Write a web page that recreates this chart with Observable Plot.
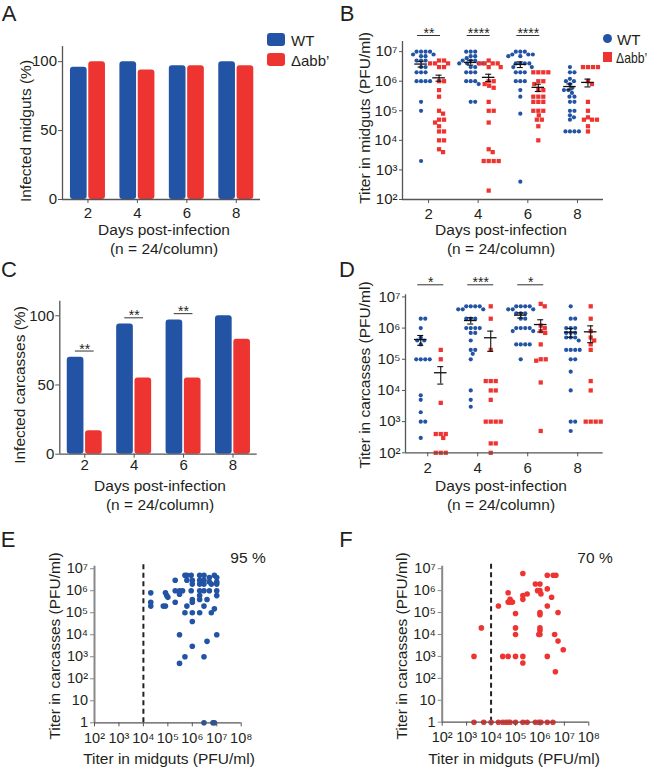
<!DOCTYPE html>
<html><head><meta charset="utf-8">
<script src="https://cdn.jsdelivr.net/npm/d3@7"></script>
<script src="https://cdn.jsdelivr.net/npm/@observablehq/plot@0.6"></script>
<style>
body{margin:0;background:#fff;}
#fig{position:relative;width:650px;height:772px;overflow:hidden;font-family:"Liberation Sans Narrow","Arial Narrow","Liberation Sans",Arial,sans-serif;color:#231f20;}
.abs{position:absolute;white-space:nowrap;line-height:1;}
</style></head>
<body><div id="fig"></div>
<script>
// ---------- data ----------
const days = [2, 4, 6, 8];
const groupNames = ["WT", "Δabb’"];
// A: infected midguts (%)
const midgutPctWT  = [96, 100, 97, 100];
const midgutPctAbb = [100, 94, 97, 97];
// C: infected carcasses (%)
const carcassPctWT  = [70, 94, 97, 100];
const carcassPctAbb = [17, 55, 55, 83];
const sigDaysC = [2, 4, 6];
const sigLabelsC = ["**", "**", "**"];
// B: titer in midguts (PFU/ml)
const bWT2  = [1e7,1e7,1e7,1e7,8e6,8e6,7e6,7e6,5e6,5e6,5e6,3e6,3e6,2e6,2e6,2e6,1e6,1e6,1e6,1e6,2e5,1e5,2e3];
const bAbb2 = [5e6,5e6,4e6,4e6,4e6,3e6,3e6,1e6,1e6,5e5,3e5,1e5,8e4,5e4,5e4,4e4,3e4,2e4,2e4,1e4,1e4,5e3,4e3];
const bWT4  = [1e7,1e7,1e7,7e6,7e6,6e6,5e6,5e6,5e6,4e6,4e6,4e6,4e6,3e6,3e6,2e6,2e6,2e6,1e6,1e6,1e6,8e5,2e5,2e5];
const bAbb4 = [5e6,4e6,4e6,4e6,4e6,3e6,3e6,1e6,1e6,8e5,7e5,6e5,2e5,1e5,1e5,4e4,5e3,4e3,2e3,2e3,2e3,2e3,2e2];
const bWT6  = [1e7,1e7,1e7,8e6,8e6,8e6,7e6,7e6,4e6,4e6,4e6,4e6,3e6,3e6,2e6,2e6,2e6,1e6,1e6,1e6,5e5,3e5,8e4,4e2];
const bAbb6 = [2e6,2e6,2e6,2e6,1e6,1e6,8e5,5e5,5e5,3e5,3e5,3e5,2e5,2e5,2e5,1e5,1e5,1e5,7e4,5e4,5e4,3e4,1e4];
const bWT8  = [3e6,2e6,2e6,1.2e6,1e6,1e6,8e5,6e5,5e5,5e5,4e5,3e5,3e5,2e5,2e5,1e5,1e5,7e4,6e4,5e4,2e4,2e4,2e4,2e4];
const bAbb8 = [3e6,3e6,3e6,3e6,1e6,8e5,2e5,1e5,6e4,5e4,5e4,5e4,3e4,2e4];
const bMeanWT  = [3.8e6, 4.3e6, 3.7e6, 6.6e5];
const bSemWT   = [8e5, 8e5, 8e5, 1.5e5];
const bMeanAbb = [1.3e6, 1.35e6, 6.2e5, 9.1e5];
const bSemAbb  = [3e5, 3.7e5, 1.7e5, 2.7e5];
const sigDaysB = [2, 4, 6];
const sigLabelsB = ["**", "****", "****"];
// D: titer in carcasses (PFU/ml)
const dWT2  = [2e6,2e6,1e6,5e5,4e5,4e5,3e5,1e5,1e5,1e5,1e5,7e3,5e3,2e3,1e3,1e3,3e2];
const dAbb2 = [2e5,1e5,4e3,4e2,4e2,4e2,3e2,1e2,1e2,1e2];
const dWT4  = [5e6,5e6,5e6,5e6,4e6,4e6,4e6,2e6,2e6,2e6,1e6,1e6,1e6,1e6,7e5,7e5,4e5,2e5,2e5,1.5e5,1e5,1e4,5e3,3e3];
const dAbb4 = [5e6,2e6,2e5,2e4,2e4,2e4,1e4,1e4,5e3,1e3,1e3,1e3,1e3,2e2,2e2,1e2];
const dWT6  = [5e6,5e6,5e6,5e6,4e6,4e6,4e6,3e6,3e6,3e6,2e6,2e6,1e6,1e6,1e6,1e6,8e5,8e5,3e5,3e5,3e5,3e5,1e5];
const dAbb6 = [6e6,5e6,1.2e6,1e6,8e5,7e5,3e5,1e5,1e5,9e4,1.8e4,5e2];
const dWT8  = [5e6,2e6,2e6,1e6,1e6,1e6,7e5,7e5,7e5,5e5,5e5,5e5,4e5,2e5,2e5,2e5,2e5,1e5,1e5,4e4,1e4,1e3,1e3,5e2];
const dAbb8 = [5e6,2e6,8e5,5e5,4e5,3e5,2e5,2e4,1e4,1e3,1e3,1e3,1e3];
const dMeanWT  = [4.3e5, 1.75e6, 2.6e6, 7.4e5];
const dSemWT   = [1.5e5, 4e5, 5e5, 2.3e5];
const dMeanAbb = [3.7e4, 4.9e5, 1.3e6, 7.6e5];
const dSemAbb  = [2.1e4, 3.1e5, 5.5e5, 4.2e5];
const sigDaysD = [2, 4, 6];
const sigLabelsD = ["*", "***", "*"];
// E: WT midgut vs carcass titer
const eMidgut  = [2e4,2e4,2e4,6.5e4,8e4,8e4,9e4,1e5,2e5,2e5, 2e5,3e5,3e5,4e5,5e5,6e5,9e5,6e5,1e6,1e6, 9e5,6e5,1e6,1e6,5e5,1e6,1e6,2e6,3e6,5e6, 2e6,2e6,2e6,2e6,2e6,3e6,3e6,3e6,5e6,5e6, 6e6,3e6,4e6,2e6,6e6,8e6,8e6,1e7,1e7,1e7, 1e7,1e7,3e5,1e7,1e6,4e6,5e5,3e6,3e5,3e6, 7e6,8e6];
const eCarcass = [8e5,3e5,2e5,2e5,2e5,8e5,6e5,5e5,3e6,1e6, 3e5,1e6,7e5,1e6,5e6,5e6,5e6,3e6,3e6,2e6, 1e6,2e5,4e5,3e5,1e5,1e5,4e4,5e6,5e6,4e6, 3e6,2e6,1e6,6e5,4e5,3e6,2e6,1e6,1e6,2.5e6, 2e6,2e5,4e5,1e5,1e5,1.5e5,5e6,4e6,2.5e6,2e6, 1e6,6e5,1e4,1e4,3e3,5e3,1e3,1e3,5e2,1, 1,1];
const ePercent = "95 %";
// F: Δabb' midgut vs carcass titer
const fMidgut  = [2e3,4e3,2e4,3e4,5e4,5e4,6e4,6e4,7.5e4,5e4, 1e5,1e5,1e5,1e5,2e5,2e5,2e5,3e5,2e5,2e5, 6.5e5,1e6,8e5,1e6,1.1e6,1e6,1e6,1e6,1e6,9e5, 1e6,2e6,3.5e6,4.5e6,2e6,3e6,2e6,2e6,4e6,5.5e6, 9e6,5.5e6,4.3e6, 2e3,5e3,1e4,2e4,3e4,4e4,5e4,6e4,1e5,2e5,3e5,6.5e5,9e5,1.1e6,2e6,3.4e6];
const fCarcass = [1e3,2e4,2e5,1e3,1e3,8e5,4e5,3e5,3e5,3e5, 9e4,2e4,1e4,1e3,6e6,6e5,4e5,7e5,1e3,5e2, 2e6,2e6,1e6,1e6,7e5,1e5,8e4,2e4,1.5e4,1e4, 1e4,5e6,5e6,5e6,1.2e6,5e5,2e5,1e3,1e4,5e3, 2e3,1e5,2e2, 1,1,1,1,1,1,1,1,1,1,1,1,1,1,1,1];
const fPercent = "70 %";
const detectionLimit = 1e4;
const decadeTicksB = [1e2,1e3,1e4,1e5,1e6,1e7];
const yTicksEF = [1,10,1e2,1e3,1e4,1e5,1e6,1e7];
const xTicksEF = [1e2,1e3,1e4,1e5,1e6,1e7,1e8];

// ---------- style ----------
const FONT = '"Liberation Sans Narrow","Arial Narrow","Liberation Sans",Arial,sans-serif';
const BLUE = "#2353a4", RED = "#ee3431", AX = "#555", TXT = "#231f20";
const fig = document.getElementById("fig");
const SUP = {"0":"⁰","1":"¹","2":"²","3":"³","4":"⁴","5":"⁵","6":"⁶","7":"⁷","8":"⁸","9":"⁹"};
const sup = v => { const e = Math.round(Math.log10(v)); if (e === 0) return "1"; if (e === 1) return "10"; return "10" + String(e).split("").map(c => SUP[c]).join(""); };

function place(svg, left, top) {
  svg.style.position = "absolute"; svg.style.left = left + "px"; svg.style.top = top + "px";
  svg.style.overflow = "visible";
  fig.appendChild(svg);
}
function txt(s, cx, cy, o = {}) {
  const el = document.createElement("div");
  el.className = "abs"; el.textContent = s;
  el.style.left = cx + "px"; el.style.top = cy + "px";
  el.style.fontSize = (o.size || 15.5) + "px";
  if (o.family) el.style.fontFamily = o.family;
  const tx = o.anchor === "start" ? "0" : "-50%";
  el.style.transformOrigin = o.anchor === "start" ? "0 50%" : "50% 50%";
  el.style.transform = `translate(${tx},-50%)` + (o.rot ? " rotate(-90deg)" : "") + (o.sx ? ` scaleX(${o.sx})` : "");
  fig.appendChild(el);
}
function box(left, top, w, h, color, radius) {
  const el = document.createElement("div");
  el.style.cssText = `position:absolute;left:${left}px;top:${top}px;width:${w}px;height:${h}px;background:${color};border-radius:${radius}px;`;
  fig.appendChild(el);
}

// ---------- bar panels (A, C) ----------
function barPanel({wt, abb, sigDays, sigLabels, dims, xDomain, yDomain, xTickPad}) {
  const [W, H, mt, mr, mb, ml] = dims;
  const bw = 0.675, gap = 0.033;
  const rWT = days.map((d, i) => ({day: d, v: wt[i]}));
  const rAbb = days.map((d, i) => ({day: d, v: abb[i]}));
  const sig = (sigDays || []).map((d, i) => ({day: d, label: sigLabels[i], y: wt[days.indexOf(d)] + 4.5}));
  return Plot.plot({
    width: W, height: H, marginTop: mt, marginRight: mr, marginBottom: mb, marginLeft: ml,
    style: {fontFamily: FONT, fontSize: "15px", color: TXT, background: "transparent"},
    x: {domain: xDomain}, y: {domain: yDomain},
    marks: [
      Plot.rectY(rWT, {x1: r => r.day - gap - bw, x2: r => r.day - gap, y: "v", fill: BLUE, rx: 3}),
      Plot.rectY(rAbb, {x1: r => r.day + gap, x2: r => r.day + gap + bw, y: "v", fill: RED, rx: 3}),
      Plot.ruleY(sig, {y: "y", x1: r => r.day - 0.38, x2: r => r.day + 0.38, stroke: "#333", strokeWidth: 1}),
      Plot.text(sig, {x: "day", y: "y", text: "label", dy: -2, lineAnchor: "middle", fontSize: 14, fill: TXT}),
      Plot.ruleX([xDomain[0]], {y1: yDomain[0], y2: yDomain[1], stroke: AX, strokeWidth: 1.3}),
      Plot.ruleY([yDomain[0]], {x1: xDomain[0], x2: xDomain[1], stroke: AX, strokeWidth: 1.3}),
      Plot.axisY({ticks: [0, 50, 100], tickSize: 4, tickPadding: 1.5, stroke: AX, fill: TXT, label: null}),
      Plot.axisX({ticks: days, tickSize: 4, tickPadding: xTickPad, stroke: AX, fill: TXT, label: null, tickFormat: d => String(d)})
    ]
  });
}

// ---------- swarm panels (B, D) ----------
function swarmOffsets(vals, pxPerDecade, dia) {
  const pts = vals.map((v, i) => ({i, y: Math.log10(v) * pxPerDecade})).sort((a, b) => b.y - a.y);
  const placed = [], off = new Array(vals.length);
  for (const p of pts) {
    let best = 0;
    for (let k = 0; k < 400; k++) {
      const c = (k % 2 ? 1 : -1) * Math.ceil(k / 2) * 0.5;
      if (placed.every(q => (q.x - c) ** 2 + (q.y - p.y) ** 2 >= dia * dia)) { best = c; break; }
    }
    placed.push({x: best, y: p.y}); off[p.i] = best;
  }
  return off;
}
function swarmPanel({wt, abb, meanWT, semWT, meanAbb, semAbb, sigDays, sigLabels, dims, xDomain, yDomain, offWT, offAbb, sig1, sig2, sigAbovePx, xTickPad}) {
  const [W, H, mt, mr, mb, ml] = dims;
  const ppdX = (W - ml - mr) / (xDomain[1] - xDomain[0]);
  const ppdY = (H - mt - mb) / Math.log10(yDomain[1] / yDomain[0]);
  const rowsWT = [], rowsAbb = [];
  days.forEach((d, i) => {
    const ow = swarmOffsets(wt[i], ppdY, 4.3);
    wt[i].forEach((v, j) => rowsWT.push({x: d + (offWT + ow[j]) / ppdX, v}));
    const oa = swarmOffsets(abb[i], ppdY, 4.6);
    abb[i].forEach((v, j) => rowsAbb.push({x: d + (offAbb + oa[j]) / ppdX, v}));
  });
  const stats = days.flatMap((d, i) => [
    {x: d + offWT / ppdX, m: meanWT[i], lo: meanWT[i] - semWT[i], hi: meanWT[i] + semWT[i]},
    {x: d + offAbb / ppdX, m: meanAbb[i], lo: meanAbb[i] - semAbb[i], hi: meanAbb[i] + semAbb[i]}
  ]);
  const hw = 6.3 / ppdX, cw = 3 / ppdX;
  const sigY = 10 ** (Math.log10(yDomain[1]) + sigAbovePx / ppdY);
  const sig = sigDays.map((d, i) => ({day: d, label: sigLabels[i], x1: d + sig1 / ppdX, x2: d + sig2 / ppdX, xm: d + (sig1 + sig2) / 2 / ppdX}));
  return Plot.plot({
    width: W, height: H, marginTop: mt, marginRight: mr, marginBottom: mb, marginLeft: ml,
    style: {fontFamily: FONT, fontSize: "15px", color: TXT, background: "transparent"},
    x: {domain: xDomain}, y: {type: "log", domain: yDomain},
    marks: [
      Plot.dot(rowsWT, {x: "x", y: "v", r: 2.1, fill: BLUE}),
      Plot.dot(rowsAbb, {x: "x", y: "v", r: 2.4, symbol: "square", fill: RED}),
      Plot.ruleY(stats, {y: "m", x1: r => r.x - hw, x2: r => r.x + hw, stroke: "#111", strokeWidth: 1.3}),
      Plot.ruleX(stats, {x: "x", y1: "lo", y2: "hi", stroke: "#111", strokeWidth: 1.1}),
      Plot.ruleY(stats, {y: "hi", x1: r => r.x - cw, x2: r => r.x + cw, stroke: "#111", strokeWidth: 1.1}),
      Plot.ruleY(stats, {y: "lo", x1: r => r.x - cw, x2: r => r.x + cw, stroke: "#111", strokeWidth: 1.1}),
      Plot.ruleY(sig, {y: sigY, x1: "x1", x2: "x2", stroke: "#333", strokeWidth: 1}),
      Plot.text(sig, {x: "xm", y: sigY, text: "label", dy: -2, lineAnchor: "middle", fontSize: 14, fill: TXT}),
      Plot.ruleX([xDomain[0]], {y1: yDomain[0], y2: yDomain[1], stroke: AX, strokeWidth: 1.3}),
      Plot.ruleY([yDomain[0]], {x1: xDomain[0], x2: xDomain[1], stroke: AX, strokeWidth: 1.3}),
      Plot.axisY({ticks: decadeTicksB, tickFormat: sup, tickSize: 3, tickPadding: 2, stroke: AX, fill: TXT, label: null}),
      Plot.axisX({ticks: days, tickSize: 4, tickPadding: xTickPad, stroke: AX, fill: TXT, label: null, tickFormat: d => String(d)})
    ]
  });
}

// ---------- scatter panels (E, F) ----------
function scatterPanel({mid, car, color, dims, yDomain, xDomain}) {
  const [W, H, mt, mr, mb, ml] = dims;
  const rows = mid.map((m, i) => ({m, c: car[i]}));
  const ppdY = (H - mt - mb) / Math.log10(yDomain[1] / yDomain[0]);
  const dashTop = 10 ** (Math.log10(yDomain[1]) + 3.5 / ppdY);
  return Plot.plot({
    width: W, height: H, marginTop: mt, marginRight: mr, marginBottom: mb, marginLeft: ml,
    style: {fontFamily: FONT, fontSize: "14.5px", color: TXT, background: "transparent"},
    x: {type: "log", domain: xDomain}, y: {type: "log", domain: yDomain},
    marks: [
      Plot.ruleX([detectionLimit], {y1: yDomain[0], y2: dashTop, stroke: "#222", strokeWidth: 2, strokeDasharray: "5,3.5"}),
      Plot.dot(rows, {x: "m", y: "c", r: 2.8, fill: color}),
      Plot.ruleX([xDomain[0]], {y1: yDomain[0], y2: yDomain[1], stroke: "#888", strokeWidth: 2}),
      Plot.ruleY([yDomain[0]], {x1: xDomain[0], x2: xDomain[1], stroke: AX, strokeWidth: 1.3}),
      Plot.axisY({ticks: yTicksEF, tickFormat: sup, tickSize: 4, tickPadding: 2.5, stroke: "#888", fill: TXT, label: null}),
      Plot.axisX({ticks: xTicksEF, tickFormat: sup, tickSize: 4, tickPadding: 6, stroke: AX, fill: TXT, label: null})
    ]
  });
}

// ---------- build ----------
// A
place(barPanel({wt: midgutPctWT, abb: midgutPctAbb, dims: [270, 225, 46, 10, 26, 62], xDomain: [0.97, 8.98], yDomain: [0, 111], xTickPad: 4}), 0, 0);
// B
place(swarmPanel({wt: [bWT2, bWT4, bWT6, bWT8], abb: [bAbb2, bAbb4, bAbb6, bAbb8], meanWT: bMeanWT, semWT: bSemWT, meanAbb: bMeanAbb, semAbb: bSemAbb,
  sigDays: sigDaysB, sigLabels: sigLabelsB, dims: [290, 225, 41, 12, 26, 77], xDomain: [0.95, 9.05], yDomain: [100, 2.2e7],
  offWT: -7.5, offAbb: 10.5, sig1: -11, sig2: 12, sigAbovePx: 6, xTickPad: 5}), 325, 0);
// C
place(barPanel({wt: carcassPctWT, abb: carcassPctAbb, sigDays: sigDaysC, sigLabels: sigLabelsC, dims: [265, 225, 50.7, 8.3, 21.3, 59.3], xDomain: [0.99, 8.98], yDomain: [0, 110.5], xTickPad: 1.5}), 0, 250);
// D
place(swarmPanel({wt: [dWT2, dWT4, dWT6, dWT8], abb: [dAbb2, dAbb4, dAbb6, dAbb8], meanWT: dMeanWT, semWT: dSemWT, meanAbb: dMeanAbb, semAbb: dSemAbb,
  sigDays: sigDaysD, sigLabels: sigLabelsD, dims: [290, 225, 44.3, 12.3, 22.7, 80], xDomain: [1.11, 9.02], yDomain: [100, 1.17e7],
  offWT: -7, offAbb: 13, sig1: -10, sig2: 16, sigAbovePx: 10, xTickPad: 6}), 325, 250);
// E
place(scatterPanel({mid: eMidgut, car: eCarcass, color: BLUE, dims: [260, 235, 45.7, 19.3, 32.7, 94], xDomain: [1e2, 1e8], yDomain: [1, 1.3e7]}), 0, 520);
// F
place(scatterPanel({mid: fMidgut, car: fCarcass, color: RED, dims: [280, 235, 45.7, 16.7, 33.3, 116.7], xDomain: [1e2, 1e8], yDomain: [1, 1.3e7]}), 325, 520);

// ---------- text ----------
const LETTER = '"Liberation Sans",Arial,sans-serif';
txt("A", 9, 14, {size: 22, family: LETTER}); txt("B", 347, 14, {size: 22, family: LETTER});
txt("C", 9, 270, {size: 22, family: LETTER}); txt("D", 347, 270, {size: 22, family: LETTER});
txt("E", 8, 540, {size: 22, family: LETTER}); txt("F", 346, 540, {size: 22, family: LETTER});

txt("Infected midguts (%)", 25.5, 131, {rot: true});
txt("Titer in midguts (PFU/ml)", 365, 117.5, {rot: true});
txt("Infected carcasses (%)", 19.5, 385, {rot: true});
txt("Titer in carcasses (PFU/ml)", 365, 375, {rot: true});
txt("Titer in carcasses (PFU/ml)", 55, 646, {rot: true});
txt("Titer in carcasses (PFU/ml)", 401.5, 646, {rot: true});

const xl1 = "Days post-infection", xl2 = "(n = 24/column)";
txt(xl1, 164, 230); txt(xl2, 164, 249);
txt(xl1, 501, 230); txt(xl2, 501, 249);
txt(xl1, 160, 486); txt(xl2, 160, 505);
txt(xl1, 501, 486); txt(xl2, 501, 505);
txt("Titer in midguts (PFU/ml)", 169, 759);
txt("Titer in midguts (PFU/ml)", 514, 759);
txt(ePercent, 248, 558);
txt(fPercent, 595, 558);

// legends
box(267, 33, 18, 13, BLUE, 3); box(267, 53, 18, 13, RED, 3);
txt(groupNames[0], 291, 39.5, {anchor: "start", size: 15}); txt(groupNames[1], 291, 59.5, {anchor: "start", size: 15});
box(602.7, 33.5, 9.8, 9.8, BLUE, 5); box(602.7, 52.4, 9.8, 9.8, RED, 0);
txt(groupNames[0], 617, 38.5, {anchor: "start", size: 15}); txt(groupNames[1], 616, 57.5, {anchor: "start", size: 14.5, sx: 0.84});
</script></body></html>
